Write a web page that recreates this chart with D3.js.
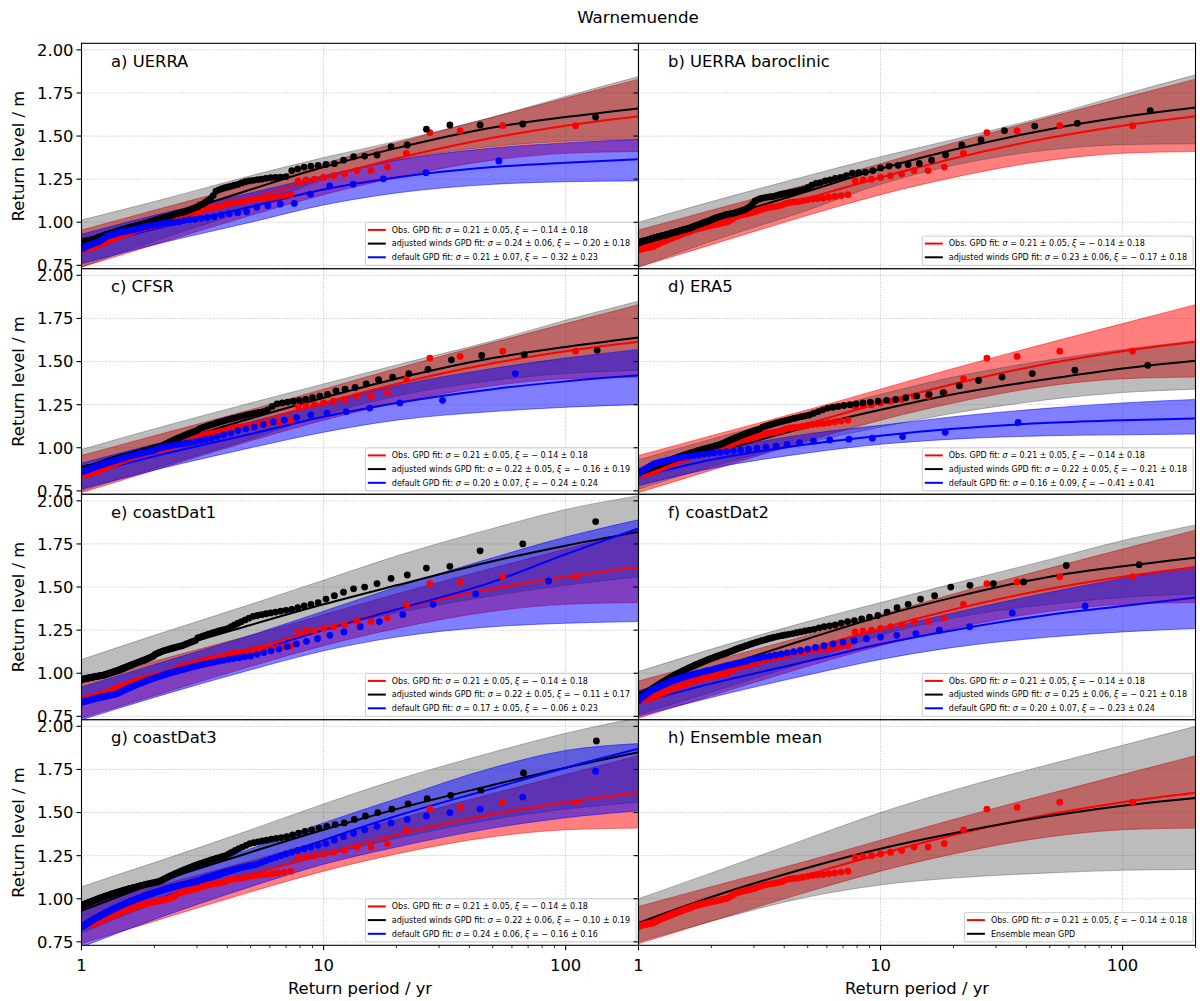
<!DOCTYPE html>
<html>
<head>
<meta charset="utf-8">
<script src="https://cdn.jsdelivr.net/npm/d3@7"></script>
<style>
  body { margin: 0; background: #fff; }
  text { font-family: "DejaVu Sans", sans-serif; }
</style>
</head>
<body>
<svg id="fig" width="1200" height="1001"></svg>
<script>
// return periods (yr) at which the fitted curves / bands were read
const periods = [1, 2, 5, 10, 20, 50, 100, 200];

// observations, identical in every panel
const obsFit  = [0.86, 0.98, 1.14, 1.26, 1.37, 1.49, 1.56, 1.615];
const obsLow  = [0.74, 0.87, 1.04, 1.16, 1.26, 1.36, 1.40, 1.41];
const obsHigh = [0.955, 1.07, 1.22, 1.34, 1.46, 1.61, 1.72, 1.83];
const obsTmax = 110;
// empirical return levels in cm, highest first (period = Tmax / rank)
const obsLevels = [156,156,153,152,140,132,130,130,128,127,126,125,124.5,124,116,115.5,115,114.5,114,113.8,113.5,
  113,112.5,112,111.8,111.5,111,110,109.5,109,108.8,108.5,108,107.5,107,106.2,
  105.8,105.5,105,104.7,104.3,104,103.5,103,102,101.2,100.5,
  100,99.8,99.5,99.2,99,98.7,98.5,98.2,98,97.7,97.5,97.2,97,96.7,96.5,96.2,96,95.7,95.3,94.8,
  94.5,94.2,94,93.7,93.4,93,92.7,92.4,92.1,91.8,91.5,91.2,90.9,90.6,90.3,90,89.7,89.4,89.1,88.8,88.5,88.2,87.9,87.6,87.3,87,86.6,86.2,
  86,85.8,85.7,85.6,85.5,85.4,85.2,85.1,85,84.9,84.8,84.6,84.4,84.2,84];

// a) UERRA
const uerraAdjFit  = [0.87, 1.01, 1.19, 1.32, 1.43, 1.55, 1.61, 1.66];
const uerraAdjLow  = [0.74, 0.89, 1.08, 1.25, 1.36, 1.44, 1.47, 1.48];
const uerraAdjHigh = [1.013, 1.12, 1.27, 1.375, 1.47, 1.61, 1.73, 1.845];
const uerraAdjTmax = 133;
const uerraAdjLevels = [161,157,156.4,156.4,154,144.8,143.8,139,138.4,138,136,
  134,133.5,133,132.5,132,131,130,
  126.5,126.2,126,125.8,125.5,125,124.7,124.3,124,123.5,
  122.8,122,121.5,121,120.5,120,119.5,118.8,118,115.5,
  113.5,112.5,111.5,110.5,110,109,108.5,108,107.5,107,
  106.5,106,105.8,105.5,105.2,105,104.6,104.2,103.9,103.6,103.3,103,102.7,
  102.4,102.1,101.8,101.5,101.2,100.9,100.6,100.3,100,99.8,99.6,99.3,99,
  98.8,98.6,98.4,98.2,98,97.8,97.6,97.4,97.2,97,96.8,96.6,96.4,96.2,96,95.8,
  95.6,95.4,95.2,95,94.8,94.6,94.4,94.2,94,93.8,93.6,93.4,93.2,93,92.8,
  92.6,92.4,92.2,92,91.8,91.6,91.4,91.2,91,90.8,90.6,90.4,90.2,90,
  89.9,89.8,89.7,89.6,89.5,89.4,89.3,89.2,89.1,89,88.8,88.6,88.4,88.2];
const uerraDefFit  = [0.85, 0.96, 1.09, 1.19, 1.26, 1.32, 1.345, 1.365];
const uerraDefLow  = [0.76, 0.87, 1.00, 1.10, 1.17, 1.22, 1.235, 1.24];
const uerraDefHigh = [0.93, 1.04, 1.17, 1.27, 1.36, 1.43, 1.46, 1.48];
const uerraDefTmax = 53;
const uerraDefLevels = [135.6,128.7,125.2,122.1,121.1,116.3,110.9,
  110.6,109.6,108.7,106.1,105.5,105,104.2,103.2,102.8,
  102.3,101.7,101.5,101,100.3,100,99.8,99.5,99,98.5,
  98.2,97.8,97.4,96.8,96.2,95.8,95.5,95,94.7,94.5,
  94,93.5,93,92.6,92.2,91.5,90.5,89.5,88.7,88.3,
  87.8,87.3,86.8,86.4,85.8,85.2,84.6];

// b) UERRA baroclinic
const barocAdjFit  = [0.88, 1.01, 1.18, 1.31, 1.42, 1.54, 1.61, 1.665];
const barocAdjLow  = [0.74, 0.89, 1.07, 1.22, 1.33, 1.42, 1.45, 1.455];
const barocAdjHigh = [1.00, 1.12, 1.27, 1.38, 1.48, 1.62, 1.74, 1.855];
const barocAdjTmax = 130;
const barocAdjLevels = [164.7,157.4,155.8,153.1,147.7,144.8,139,136,134.1,
  133.5,133,132.6,131.5,130,129,128.7,128.5,127,126,125.5,124.5,124,123,122.5,
  121.5,120,119,118.5,118,117.6,117.2,116.8,116.4,116,
  115.5,115,114.8,114.6,114.3,114,113.5,113,112.2,110.5,109,108.2,107.4,
  107,106.6,106.2,105.8,105.4,105.2,105,104.7,104.5,
  104.2,103.9,103.6,103.3,103,102.6,102.2,101.8,101.4,101,100.6,
  100.3,100,99.7,99.4,99.1,98.8,98.5,98.2,97.9,97.6,97.2,96.8,
  96.6,96.4,96.2,96,95.8,95.6,95.4,95.2,95,94.8,94.6,94.4,94.2,94.1,93.9,
  93.7,93.5,93.3,93.1,92.9,92.7,92.5,92.4,92.3,92.2,92,91.8,91.6,91.5,91.3,91.2,91.1,90.9,
  90.8,90.6,90.4,90.2,90,89.9,89.8,89.6,89.5,89.4,89.2,89.1,89,88.8,88.6,88.4,88.2,88];

// c) CFSR
const cfsrAdjFit  = [0.87, 1.00, 1.17, 1.29, 1.40, 1.52, 1.585, 1.64];
const cfsrAdjLow  = [0.75, 0.88, 1.05, 1.19, 1.30, 1.39, 1.43, 1.45];
const cfsrAdjHigh = [0.99, 1.11, 1.26, 1.37, 1.48, 1.62, 1.74, 1.85];
const cfsrAdjTmax = 135;
const cfsrAdjLevels = [156.5,154,153.5,151,145.5,143,141,139.5,137,135,134,133,131,130,129,128,127.5,127,126.5,126,125.5,
  124,122,121,120.5,120,119.5,
  119,118.5,118,117.5,117,116.5,116,115.5,115,114.5,114,113.5,113,112.5,112,111.5,111,110,
  109.5,109,108.5,108,107.5,107,106.5,106,105.5,105,104.5,104,103.5,103,102.5,102,101.5,101,100.8,100.5,100.2,100,
  99.8,99.5,99.3,99,98.8,98.5,98.3,98,97.8,97.5,97.3,97,96.8,96.6,96.4,96.2,96,95.8,95.6,95.4,95.2,95.1,95,
  94.8,94.6,94.4,94.2,94,93.8,93.6,93.4,93.2,93,92.8,92.6,92.4,92.2,92,91.8,91.6,91.4,91.2,91,
  90.8,90.6,90.4,90.2,90,89.8,89.6,89.4,89.2,89,88.9,88.8,88.7,88.6,88.5,88.4,88.3,88.2,88.1,88,87.8,87.6,87.4,87.2,87];
const cfsrDefFit  = [0.84, 0.95, 1.08, 1.18, 1.26, 1.34, 1.385, 1.42];
const cfsrDefLow  = [0.76, 0.87, 1.00, 1.09, 1.16, 1.21, 1.235, 1.25];
const cfsrDefHigh = [0.91, 1.02, 1.15, 1.26, 1.36, 1.46, 1.52, 1.57];
const cfsrDefTmax = 62;
const cfsrDefLevels = [143,127.5,126,123,121,120,119,117.5,116,115,
  113.5,112,111,110,108.5,107.5,106.5,105.5,104.8,104,
  103.5,103,102.6,102.2,101.8,101.4,101,100.5,100,99.5,
  98.5,98,97.6,97.2,96.8,96.4,96,95.6,95.2,94.8,
  94.2,93.8,93.4,93,92.6,92.2,91.8,91.4,91,90.6,
  90.2,89.8,89.4,89,88.6,88.2,87.8,87.4,87,86.6,86.3,86];

// d) ERA5
const era5AdjFit  = [0.86, 0.97, 1.12, 1.22, 1.31, 1.40, 1.46, 1.505];
const era5AdjLow  = [0.76, 0.89, 1.03, 1.12, 1.20, 1.28, 1.32, 1.34];
const era5AdjHigh = [0.93, 1.05, 1.20, 1.31, 1.41, 1.51, 1.57, 1.62];
const era5AdjTmax = 127;
const era5AdjLevels = [147.8,145,143,141,139,136,132,131,130,129,128,127.5,127,126.5,126,125.5,125,124.5,124,123.5,
  123,122,121,120,119,
  118.5,118,117.5,117,116.5,116,115.5,115,114.5,114,113.5,113,112.5,112,111,110.5,110,
  109.5,109,108.5,108,107.5,107,106.5,106,105.5,105,104.5,104,103.5,103,102.5,102,101.7,101.4,101.1,100.8,100.5,100.2,
  100,99.7,99.5,99.3,99,98.8,98.5,98.3,98,97.8,97.5,97.3,97,96.8,96.5,96.3,96,95.8,95.5,95.3,95,94.8,94.5,94.3,94,93.8,
  93.5,93.3,93,92.8,92.5,92.3,92,91.8,91.5,91.3,91,90.8,90.5,90.3,
  90,89.8,89.6,89.4,89.2,89,88.8,88.6,88.4,88.2,88,87.8,87.6,87.4,87.2,87,86.8,86.6,86.4,86.3,86.2,86.1,86];
const era5DefFit  = [0.83, 0.93, 1.02, 1.07, 1.11, 1.145, 1.16, 1.17];
const era5DefLow  = [0.78, 0.88, 0.97, 1.02, 1.05, 1.07, 1.075, 1.08];
const era5DefHigh = [0.88, 0.98, 1.08, 1.13, 1.18, 1.23, 1.26, 1.28];
const era5DefTmax = 37;
const era5DefLevels = [114.7,109,106.5,105.5,105,104.5,104,103,102,101,
  100.3,99.7,99.2,98.7,98.2,97.8,97.4,97,96.6,96.2,
  95.8,95.4,95,94.6,94.2,93.8,93.3,92.8,92.3,91.8,
  91.2,90.6,89.5,88.5,87.5,86.3,85];

// e) coastDat1
const cd1AdjFit  = [0.95, 1.11, 1.28, 1.40, 1.51, 1.65, 1.74, 1.82];
const cd1AdjLow  = [0.82, 0.98, 1.15, 1.26, 1.35, 1.45, 1.51, 1.56];
const cd1AdjHigh = [1.08, 1.22, 1.40, 1.54, 1.68, 1.84, 1.95, 2.03];
const cd1AdjTmax = 133;
const cd1AdjLevels = [188,175,171,162,161,157,155,152,150,149,147,145,143,141,140,139,138,137,136.5,136,135.5,135,134.5,134,133.5,133,
  132,131,130,129,128,127,126,125.5,125,124.5,124,123.5,123,122.5,122,121.5,121,120.5,
  119,118.5,118,117.5,117,116.5,116,115.7,115.4,115.1,114.8,114.5,114.2,113.9,113.6,113.3,113,112.6,112.2,111.8,111.4,111,
  110,109.6,109.2,108.8,108.4,108,
  107.7,107.4,107.1,106.8,106.5,106.2,105.9,105.6,105.3,105,104.7,104.4,104.1,103.8,103.5,103.2,102.9,102.6,102.3,102,
  101.8,101.6,101.4,101.2,101,100.8,100.6,100.4,100.2,100,99.8,99.6,99.4,99.2,99,
  98.9,98.8,98.7,98.6,98.5,98.4,98.3,98.2,98.1,98,97.9,97.8,97.7,97.6,97.5,97.4,97.3,97.2,97.1,97,96.9,96.8,96.7,96.6,96.5,96.4];
const cd1DefFit  = [0.83, 0.96, 1.12, 1.25, 1.37, 1.53, 1.69, 1.84];
const cd1DefLow  = [0.73, 0.86, 1.02, 1.13, 1.21, 1.27, 1.29, 1.30];
const cd1DefHigh = [0.92, 1.05, 1.22, 1.36, 1.50, 1.67, 1.79, 1.89];
const cd1DefTmax = 85;
const cd1DefLevels = [153.5,146,140,134,130,127,124,122,120,118.5,117,115.5,114,113,112,111,110,
  109.5,109,108.5,108,107.5,107,106.5,106,105.5,105,104.5,104,103.5,103,102.5,102,101.5,101,100.5,100,
  99.5,99,98.5,98,97.5,97,96.5,96,95.5,95,94.5,94,93.5,93,92.5,92,91.5,91,90.5,90,89.5,89,88.5,88,
  87.8,87.6,87.4,87.2,87,86.8,86.6,86.4,86.2,86,85.8,85.6,85.4,85.2,85,84.8,84.6,84.4,84.2,84,83.8,83.6,83.4,83.2];

// f) coastDat2
const cd2AdjFit  = [0.88, 1.02, 1.20, 1.33, 1.44, 1.56, 1.62, 1.67];
const cd2AdjLow  = [0.76, 0.89, 1.07, 1.22, 1.32, 1.40, 1.44, 1.46];
const cd2AdjHigh = [1.01, 1.14, 1.30, 1.41, 1.52, 1.66, 1.77, 1.86];
const cd2AdjTmax = 117;
const cd2AdjLevels = [163,162.5,153,152,151,150,145,143,140,138,
  135.5,133.5,132.5,131.5,130.5,130,129,128,127.5,127,
  126.3,125.5,125,124.5,124,123.5,123,122.6,122.2,121.8,
  121.4,121,120.5,120,119.5,119,118.5,118,117.5,117,
  116.5,116,115.5,115,114.5,114,113.5,113,112.5,112,
  111.6,111.2,110.8,110.4,110,109.6,109.2,108.8,108.4,108,
  107.6,107.2,106.8,106.4,106,105.6,105.2,104.8,104.4,104,
  103.6,103.2,102.8,102.4,102,101.6,101.2,100.8,100.4,100,
  99.6,99.2,98.8,98.4,98,97.6,97.2,96.8,96.4,96,
  95.6,95.2,94.8,94.4,94,93.6,93.2,
  92.8,92.4,92,91.6,91.2,90.8,90.4,90,89.7,89.4,89.1,88.8,88.5,88.2,88,87.8,87.6,87.4,87.2,87];
const cd2DefFit  = [0.83, 0.94, 1.07, 1.17, 1.25, 1.34, 1.39, 1.44];
const cd2DefLow  = [0.75, 0.86, 0.99, 1.08, 1.15, 1.21, 1.24, 1.26];
const cd2DefHigh = [0.90, 1.01, 1.14, 1.25, 1.35, 1.47, 1.55, 1.62];
const cd2DefTmax = 70;
const cd2DefLevels = [139,135,127,125,123,122,121,120,119,118,
  117,116,115,114,113.2,112.5,111.8,111.2,110.6,110,
  109.5,109,108.5,108,107,106.5,106,105.5,105,104.5,
  104,103.5,103,102.5,102,101.6,101.2,100.8,100.4,100,
  99.6,99.2,98.8,98.4,98,97.6,97.2,96.8,96.4,96,
  95.5,95,94.5,94,93.5,93,92.5,92,91.5,91,
  90.5,90,89.3,88.6,87.9,87.2,86.5,85.8,85,84];

// g) coastDat3
const cd3AdjFit  = [0.93, 1.09, 1.27, 1.40, 1.52, 1.66, 1.76, 1.85];
const cd3AdjLow  = [0.80, 0.97, 1.14, 1.25, 1.35, 1.46, 1.52, 1.56];
const cd3AdjHigh = [1.07, 1.21, 1.40, 1.55, 1.69, 1.85, 1.96, 2.05];
const cd3AdjTmax = 134;
const cd3AdjLevels = [191.5,173,163,160,158,155,152,150,148,146,144,143,142,141,140,139,138,137,136,135.5,135,134.5,134,133.5,133,132.5,
  132,131,130,129,128,127,126,125,124.5,124,123.5,123,122.5,122,121.5,121,120.5,120,
  119.5,119,118.5,118,117.5,117,116.5,116,115.5,115,114.5,114,113.5,113,112.5,112,111.5,111,110.5,110,
  109.8,109.6,109.4,109.2,109,108.8,108.6,108.4,108.2,108,107.8,107.6,107.4,107.2,107,106.8,106.6,106.4,106.2,106,
  105.8,105.6,105.4,105.2,105,104.8,104.6,104.4,104.2,104,103.8,103.6,103.4,103.2,103,102.8,102.6,102.4,102.2,102,
  101.8,101.6,101.4,101.2,101,100.8,100.6,100.4,100.2,100,99.8,99.6,99.4,99.2,99,98.8,98.6,98.4,98.2,98,
  97.8,97.6,97.4,97.2,97,96.8,96.6,96.4,96.2,96];
const cd3DefFit  = [0.84, 0.99, 1.19, 1.34, 1.48, 1.64, 1.76, 1.87];
const cd3DefLow  = [0.72, 0.88, 1.07, 1.20, 1.30, 1.41, 1.47, 1.51];
const cd3DefHigh = [0.94, 1.09, 1.29, 1.44, 1.58, 1.76, 1.86, 1.90];
const cd3DefTmax = 133;
const cd3DefLevels = [174,159,152,150,148,146,144,142,140,138,136,134,132,131,130,129,128,127,126,125,124,123,122,121,120,
  119.5,119,118.5,118,117.5,117,116.5,116,115.5,115,114.5,114,113.5,113,112.5,112,111.5,111,110.5,110,
  109.7,109.4,109.1,108.8,108.5,108.2,107.9,107.6,107.3,107,106.7,106.4,106.1,105.8,105.5,105.2,104.9,104.6,104.3,104,
  103.7,103.4,103.1,102.8,102.5,102.2,101.9,101.6,101.3,101,100.7,100.4,100.1,99.8,99.5,99.2,98.9,98.6,98.3,98,
  97.7,97.4,97.1,96.8,96.5,96.2,95.9,95.6,95.3,95,94.7,94.4,94.1,93.8,93.5,93.2,92.9,92.6,92.3,92,
  91.7,91.4,91.1,90.8,90.5,90.2,89.9,89.6,89.3,89,88.7,88.4,88.1,87.8,87.5,87.2,86.9,86.6,86.3,86,
  85.7,85.4,85.1,84.8,84.5,84.2,83.9,83.6];

// h) Ensemble mean
const ensFit  = [0.86, 1.01, 1.18, 1.29, 1.38, 1.48, 1.54, 1.585];
const ensLow  = [0.75, 0.87, 1.01, 1.08, 1.12, 1.15, 1.165, 1.17];
const ensHigh = [1.00, 1.15, 1.35, 1.50, 1.63, 1.78, 1.89, 2.00];

// legend parameters: sigma, +-, xi, +-
const obsPar = ["0.21", "0.05", "0.14", "0.18"];

const panels = [
  { label: "a) UERRA",
    adj: { fit: uerraAdjFit, low: uerraAdjLow, high: uerraAdjHigh, tmax: uerraAdjTmax, levels: uerraAdjLevels, par: ["0.24","0.06","0.20","0.18"] },
    def: { fit: uerraDefFit, low: uerraDefLow, high: uerraDefHigh, tmax: uerraDefTmax, levels: uerraDefLevels, par: ["0.21","0.07","0.32","0.23"] } },
  { label: "b) UERRA baroclinic",
    adj: { fit: barocAdjFit, low: barocAdjLow, high: barocAdjHigh, tmax: barocAdjTmax, levels: barocAdjLevels, par: ["0.23","0.06","0.17","0.18"] } },
  { label: "c) CFSR",
    adj: { fit: cfsrAdjFit, low: cfsrAdjLow, high: cfsrAdjHigh, tmax: cfsrAdjTmax, levels: cfsrAdjLevels, par: ["0.22","0.05","0.16","0.19"] },
    def: { fit: cfsrDefFit, low: cfsrDefLow, high: cfsrDefHigh, tmax: cfsrDefTmax, levels: cfsrDefLevels, par: ["0.20","0.07","0.24","0.24"] } },
  { label: "d) ERA5",
    adj: { fit: era5AdjFit, low: era5AdjLow, high: era5AdjHigh, tmax: era5AdjTmax, levels: era5AdjLevels, par: ["0.22","0.05","0.21","0.18"] },
    def: { fit: era5DefFit, low: era5DefLow, high: era5DefHigh, tmax: era5DefTmax, levels: era5DefLevels, par: ["0.16","0.09","0.41","0.41"] } },
  { label: "e) coastDat1",
    adj: { fit: cd1AdjFit, low: cd1AdjLow, high: cd1AdjHigh, tmax: cd1AdjTmax, levels: cd1AdjLevels, par: ["0.22","0.05","0.11","0.17"] },
    def: { fit: cd1DefFit, low: cd1DefLow, high: cd1DefHigh, tmax: cd1DefTmax, levels: cd1DefLevels, par: ["0.17","0.05","0.06","0.23"] } },
  { label: "f) coastDat2",
    adj: { fit: cd2AdjFit, low: cd2AdjLow, high: cd2AdjHigh, tmax: cd2AdjTmax, levels: cd2AdjLevels, par: ["0.25","0.06","0.21","0.18"] },
    def: { fit: cd2DefFit, low: cd2DefLow, high: cd2DefHigh, tmax: cd2DefTmax, levels: cd2DefLevels, par: ["0.20","0.07","0.23","0.24"] } },
  { label: "g) coastDat3",
    adj: { fit: cd3AdjFit, low: cd3AdjLow, high: cd3AdjHigh, tmax: cd3AdjTmax, levels: cd3AdjLevels, par: ["0.22","0.06","0.10","0.19"] },
    def: { fit: cd3DefFit, low: cd3DefLow, high: cd3DefHigh, tmax: cd3DefTmax, levels: cd3DefLevels, par: ["0.24","0.06","0.16","0.16"] } },
  { label: "h) Ensemble mean",
    adj: { fit: ensFit, low: ensLow, high: ensHigh, tmax: null, levels: [], par: null } }
];

const svg = d3.select("#fig");
const colX = [81.5, 638.5], axW = 557;
const rowY = [43.3, 268.8, 494.3, 719.8], axH = 225.5;
const fsBig = 16.4;

const x = d3.scaleLog().domain([1, 200]).range([0, axW]);
const y = d3.scaleLinear().domain([0.730, 2.038]).range([axH, 0]);

svg.append("defs").append("clipPath").attr("id", "clip")
  .append("rect").attr("width", axW).attr("height", axH);

const line = d3.line().x(d => x(d[0])).y(d => y(d[1])).curve(d3.curveMonotoneX);
const area = d3.area().x(d => x(d[0])).y0(d => y(d[1])).y1(d => y(d[2])).curve(d3.curveMonotoneX);

const yTicks = [0.75, 1.00, 1.25, 1.50, 1.75, 2.00];
const xMajor = [1, 10, 100];
const xMinor = [2,3,4,5,6,7,8,9,20,30,40,50,60,70,80,90,200];

function band(g, low, high, color, op) {
  g.append("path")
    .datum(periods.map((t, i) => [t, low[i], high[i]]))
    .attr("d", area)
    .attr("fill", color).attr("fill-opacity", op)
    .attr("stroke", color).attr("stroke-opacity", op).attr("stroke-width", 1);
}

function fitLine(g, fit, color) {
  g.append("path")
    .datum(periods.map((t, i) => [t, fit[i]]))
    .attr("d", line)
    .attr("fill", "none").attr("stroke", color).attr("stroke-width", 2);
}

function dots(g, levels, tmax, color) {
  g.append("g").selectAll("circle")
    .data(levels.map((v, k) => [tmax / (k + 1), v / 100]).filter(d => d[0] >= 0.98))
    .join("circle")
    .attr("cx", d => x(d[0])).attr("cy", d => y(d[1]))
    .attr("r", 3.4).attr("fill", color);
}

function gpdLabel(text, name, par) {
  text.append("tspan").text(name + " GPD fit: ");
  text.append("tspan").attr("font-style", "italic").text("σ");
  text.append("tspan").text(" = " + par[0] + " ± " + par[1] + ", ");
  text.append("tspan").attr("font-style", "italic").text("ξ");
  text.append("tspan").text(" =  − " + par[2] + " ± " + par[3]);
}

function legend(g, entries) {
  const fs = 8, rowH = 13.7;
  const lg = g.append("g");
  const box = lg.append("rect");
  const n = entries.length;
  const bottom = axH - 3.5;
  const rows = entries.map((e, i) => {
    const r = lg.append("g");
    r.append("line").attr("x1", 0).attr("x2", 18).attr("stroke", e.color).attr("stroke-width", 2);
    const t = r.append("text").attr("x", 24).attr("dy", "0.35em").attr("font-size", fs).attr("fill", "#000");
    e.fill(t);
    return { r, cy: bottom - 8 - (n - 1 - i) * rowH, w: t.node().getComputedTextLength() };
  });
  const wMax = d3.max(rows, d => d.w);
  const bw = 2.5 + 24 + wMax + 6;
  const bx = axW - 2.5 - bw;
  rows.forEach(d => d.r.attr("transform", `translate(${bx + 2.5},${d.cy})`));
  const top = bottom - 8 - (n - 1) * rowH - 7.5;
  box.attr("x", bx).attr("y", top).attr("width", bw).attr("height", bottom - top)
    .attr("rx", 2).attr("fill", "#fff").attr("fill-opacity", 0.8)
    .attr("stroke", "#cccccc").attr("stroke-width", 1);
}

panels.forEach((p, i) => {
  const col = i % 2, row = Math.floor(i / 2);
  const g = svg.append("g").attr("transform", `translate(${colX[col]},${rowY[row]})`);
  g.append("rect").attr("width", axW).attr("height", axH).attr("fill", "#fff");

  // grid
  g.append("g").selectAll("line").data(xMajor).join("line")
    .attr("x1", d => x(d)).attr("x2", d => x(d)).attr("y1", 0).attr("y2", axH)
    .attr("stroke", "#b0b0b0").attr("stroke-width", 0.8).attr("stroke-dasharray", "1,1.6");
  g.append("g").selectAll("line").data(yTicks).join("line")
    .attr("x1", 0).attr("x2", axW).attr("y1", d => y(d)).attr("y2", d => y(d))
    .attr("stroke", "#b0b0b0").attr("stroke-width", 0.8).attr("stroke-dasharray", "1,1.6");

  const plot = g.append("g").attr("clip-path", "url(#clip)");
  band(plot, obsLow, obsHigh, "red", 0.5);
  band(plot, p.adj.low, p.adj.high, "#333", 0.33);
  if (p.def) band(plot, p.def.low, p.def.high, "blue", 0.5);

  fitLine(plot, obsFit, "red");
  fitLine(plot, p.adj.fit, "black");
  if (p.def) fitLine(plot, p.def.fit, "blue");

  dots(plot, obsLevels, obsTmax, "red");
  if (p.adj.levels.length) dots(plot, p.adj.levels, p.adj.tmax, "black");
  if (p.def) dots(plot, p.def.levels, p.def.tmax, "blue");

  // legend
  const entries = [{ color: "red", fill: t => gpdLabel(t, "Obs.", obsPar) }];
  if (p.adj.par) entries.push({ color: "black", fill: t => gpdLabel(t, "adjusted winds", p.adj.par) });
  else entries.push({ color: "black", fill: t => t.text("Ensemble mean GPD") });
  if (p.def) entries.push({ color: "blue", fill: t => gpdLabel(t, "default", p.def.par) });
  legend(g, entries);

  // panel label
  g.append("text").attr("x", 29.5).attr("y", 23.5).attr("font-size", fsBig).text(p.label);

  // y ticks
  g.append("g").selectAll("line").data(yTicks).join("line")
    .attr("x1", -5).attr("x2", 0).attr("y1", d => y(d)).attr("y2", d => y(d))
    .attr("stroke", "#000").attr("stroke-width", 1.1);
  if (col === 0) {
    g.append("g").selectAll("text").data(yTicks).join("text")
      .attr("x", -8).attr("y", d => y(d)).attr("dy", "0.36em").attr("text-anchor", "end")
      .attr("font-size", fsBig).text(d => d.toFixed(2));
    g.append("text")
      .attr("transform", `translate(${18 - colX[0]},${axH / 2}) rotate(-90)`)
      .attr("text-anchor", "middle").attr("dy", "0.35em").attr("font-size", fsBig)
      .text("Return level / m");
  }
  // x ticks on bottom row
  if (row === 3) {
    g.append("g").selectAll("line").data(xMajor).join("line")
      .attr("x1", d => x(d)).attr("x2", d => x(d)).attr("y1", axH).attr("y2", axH + 5)
      .attr("stroke", "#000").attr("stroke-width", 1.1);
    g.append("g").selectAll("line").data(xMinor).join("line")
      .attr("x1", d => x(d)).attr("x2", d => x(d)).attr("y1", axH).attr("y2", axH + 2.8)
      .attr("stroke", "#000").attr("stroke-width", 0.8);
    g.append("g").selectAll("text").data(xMajor).join("text")
      .attr("x", d => x(d)).attr("y", axH + 25.5).attr("text-anchor", "middle")
      .attr("font-size", fsBig).text(d => d);
    g.append("text").attr("x", axW / 2).attr("y", axH + 49).attr("text-anchor", "middle")
      .attr("font-size", fsBig).text("Return period / yr");
  }
  // spines
  g.append("rect").attr("width", axW).attr("height", axH)
    .attr("fill", "none").attr("stroke", "#000").attr("stroke-width", 1.1);
});

svg.append("text").attr("x", 638).attr("y", 23).attr("text-anchor", "middle")
  .attr("font-size", 16.7).text("Warnemuende");
</script>
</body>
</html>
